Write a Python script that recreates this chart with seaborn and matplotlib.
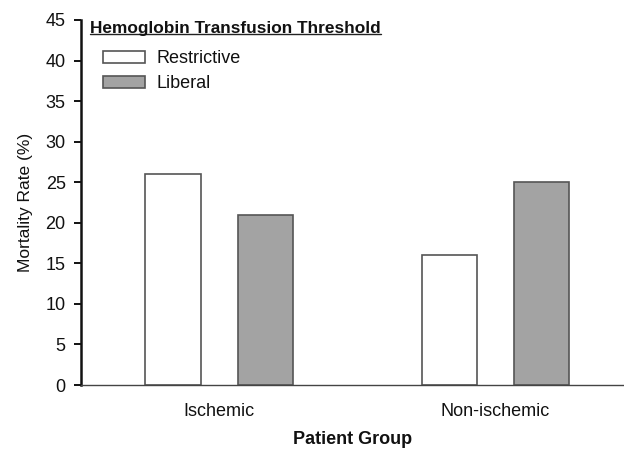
import matplotlib
matplotlib.use("Agg")
import matplotlib.pyplot as plt
import seaborn as sns
import pandas as pd
from matplotlib.lines import Line2D

# ---- data ----
groups = ["Ischemic", "Non-ischemic"]
thresholds = ["Restrictive", "Liberal"]
restrictive = [26, 16]
liberal = [21, 25]
yticks = [0, 5, 10, 15, 20, 25, 30, 35, 40, 45]

df = pd.DataFrame({
    "Group": groups * 2,
    "Threshold": [thresholds[0]] * 2 + [thresholds[1]] * 2,
    "Mortality": restrictive + liberal,
})

sns.set_style("white")
plt.rcParams["font.family"] = ["Liberation Sans", "DejaVu Sans"]

W, H = 624, 450
fig = plt.figure(figsize=(W / 100, H / 100), dpi=100)
ax = fig.add_axes([81 / W, 65 / H, 543 / W, 365 / H])

sns.barplot(data=df, x="Group", y="Mortality", hue="Threshold",
            hue_order=thresholds, order=groups,
            palette={"Restrictive": "#ffffff", "Liberal": "#a3a3a3"},
            width=0.667, gap=0.4, edgecolor="#555555", linewidth=1.2,
            ax=ax, legend=True)

ax.set_xlim(-0.5, 1.466)
ax.set_ylim(0, 45)
ax.set_yticks(yticks)
ax.set_yticklabels([str(t) for t in yticks])

for s in ["top", "right"]:
    ax.spines[s].set_visible(False)
ax.spines["left"].set_linewidth(1.8)
ax.spines["left"].set_color("#111111")
ax.spines["bottom"].set_linewidth(1.0)
ax.spines["bottom"].set_color("#444444")

ax.tick_params(axis="y", direction="out", length=5, width=1.4, color="#111111",
               labelsize=13, pad=6, left=True, labelcolor="#111111")
ax.tick_params(axis="x", length=0, labelsize=13, pad=13, labelcolor="#111111")

ax.set_ylabel("Mortality Rate (%)", fontsize=12.5, color="#111111")
ax.yaxis.set_label_coords(-0.088, 0.5)
ax.set_xlabel("Patient Group", fontsize=13, fontweight="bold", color="#111111")
ax.xaxis.set_label_coords(0.5, -0.125)

handles, labels = ax.get_legend_handles_labels()
ax.legend(handles, labels, loc="upper left",
          bbox_to_anchor=(103 / W, 1 - 50 / H), bbox_transform=fig.transFigure,
          frameon=False, fontsize=13, handlelength=2.35, handleheight=0.65,
          handletextpad=0.6, labelspacing=0.46, borderpad=0, borderaxespad=0,
          labelcolor="#111111")

title = fig.text(90 / W, 1 - 28 / H, "Hemoglobin Transfusion Threshold",
                 fontsize=12.4, fontweight="bold", va="center", ha="left",
                 color="#111111")
fig.canvas.draw()
bb = title.get_window_extent()
inv = fig.transFigure.inverted()
(x0, y0), (x1, y1) = inv.transform([(bb.x0, bb.y0), (bb.x1, bb.y0)])
fig.add_artist(Line2D([x0, x1], [y0 + 1.5 / H, y1 + 1.5 / H],
                      transform=fig.transFigure, color="#222222", lw=1.0))

fig.savefig("out.png", dpi=100)
